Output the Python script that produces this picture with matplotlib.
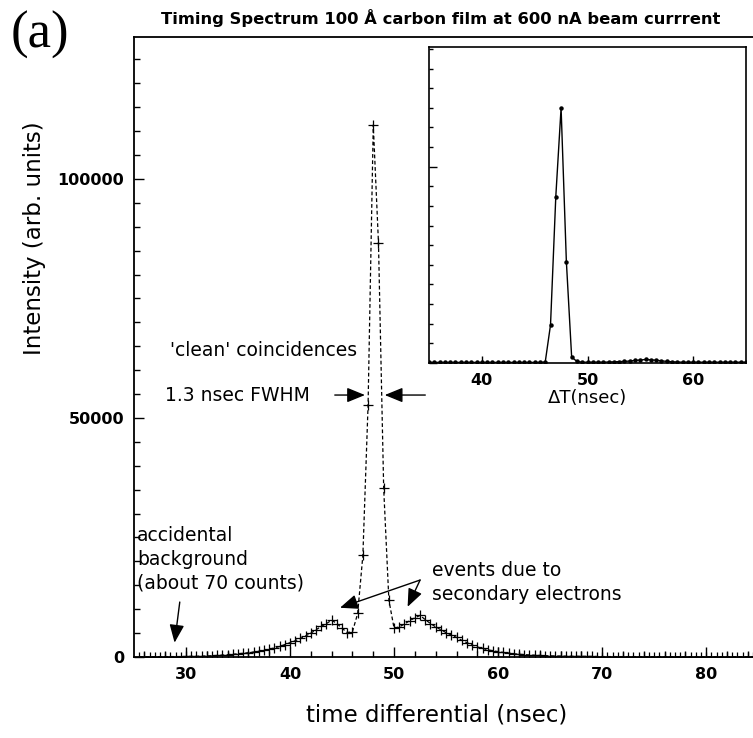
import numpy as np
import matplotlib
matplotlib.use("Agg")
import matplotlib.pyplot as plt
from matplotlib.ticker import MultipleLocator

# ---------------- data ----------------
main_x = np.arange(25.5, 84.51, 0.5)
main_counts = [
    70, 70, 70, 70, 80, 80, 90, 90, 100, 110,
    130, 150, 180, 220, 270, 330, 400, 480, 570, 670,
    780, 900, 1050, 1200, 1400, 1650, 1900, 2200, 2600, 3000,
    3400, 3900, 4400, 5000, 5700, 6400, 7000, 7700,
    7000, 6000, 5100, 5300,
    9100, 21300, 52700, 111300, 86600, 35300, 11900, 6000,
    6300, 6900, 7600, 8200, 8700, 7800,
    7000, 6300, 5700, 5100, 4600, 4100, 3500, 3000, 2500, 2100,
    1800, 1500, 1300, 1100, 950, 800, 680, 580, 500, 430,
    370, 320, 280, 240, 210, 190, 170, 150, 140, 130, 120, 110, 100, 95,
    90, 90, 90, 85, 85, 85, 80, 80, 80, 80, 80, 75, 75, 75, 75,
    75, 75, 75, 70, 70, 70, 70, 70, 70, 70, 70, 70, 70, 70,
]

inset_x = np.arange(35.0, 65.01, 0.5)
inset_counts = [
    300, 300, 300, 300, 300, 300, 300, 300, 300, 300, 300,
    300, 300, 300, 300, 300, 300, 300, 300, 300, 300, 300,
    500, 19400, 84800, 130000, 51700, 3000, 800,
    400, 400, 400, 400, 400, 500, 600, 700, 800,
    1000, 1300, 1500, 1800, 1600, 1400, 1100,
    800, 600, 500, 400, 400, 400, 400, 400, 400, 400, 400, 400, 400, 400, 400, 400,
]

title_text = "Timing Spectrum 100 Å carbon film at 600 nA beam currrent"
xlabel_text = "time differential (nsec)"
ylabel_text = "Intensity (arb. units)"
inset_xlabel = "ΔT(nsec)"

# ---------------- figure ----------------
W, H = 753, 738
fig = plt.figure(figsize=(W / 100, H / 100), dpi=100)
plt.rcParams['font.family'] = ['DejaVu Sans']


def frac_box(l, t, r, b):
    return [l / W, 1 - b / H, (r - l) / W, (b - t) / H]


ax = fig.add_axes(frac_box(134, 37, 753, 657))
ax.plot(main_x, main_counts, linestyle=(0, (3, 2)), color='black', lw=0.9,
        marker='+', markersize=7, markeredgewidth=0.9)
ax.set_xlim(25, 84.5)
ax.set_ylim(0, 129700)
ax.xaxis.set_major_locator(MultipleLocator(10))
ax.xaxis.set_minor_locator(MultipleLocator(2))
ax.yaxis.set_major_locator(MultipleLocator(50000))
ax.yaxis.set_minor_locator(MultipleLocator(5000))
ax.tick_params(which='both', direction='in', color='black', width=1)
ax.tick_params(which='major', length=7, labelsize=11.5, pad=7)
ax.tick_params(which='minor', length=4)
for lab in ax.get_xticklabels() + ax.get_yticklabels():
    lab.set_fontweight('bold')
for s in ax.spines.values():
    s.set_linewidth(1.3)
ax.spines['right'].set_visible(False)

ax.set_xlabel(xlabel_text, fontsize=16.5)
ax.xaxis.set_label_coords((437 - 134) / (753 - 134), -(715 - 657) / 620, transform=ax.transAxes)
ax.xaxis.label.set_va('center')
ax.set_ylabel(ylabel_text, fontsize=16.5)
ax.yaxis.set_label_coords(-(134 - 35) / 619, (657 - 238) / 620)
ax.yaxis.label.set_va('center')

fig.text(441 / W, 1 - 18 / H, title_text, fontsize=11.8, fontweight='bold',
         ha='center', va='center')
fig.text(11 / W, 1 - 35 / H, "(a)", fontsize=38, family='Liberation Serif',
         ha='left', va='center')

# annotations
arrow_kw = dict(arrowstyle='-|>,head_length=1.1,head_width=0.45', color='black', lw=1.0,
                shrinkA=0, shrinkB=0)
ann_fs = 13.5
ax.text(28.5, 64200, "'clean' coincidences", fontsize=ann_fs, ha='left', va='center')
ax.text(28.0, 54800, "1.3 nsec FWHM", fontsize=ann_fs, ha='left', va='center')
ax.annotate("", xy=(47.2, 54800), xytext=(44.3, 54800), arrowprops=arrow_kw)
ax.annotate("", xy=(49.1, 54800), xytext=(53.0, 54800), arrowprops=arrow_kw)

ax.text(25.3, 27300, "accidental\nbackground\n(about 70 counts)", fontsize=ann_fs,
        ha='left', va='top', linespacing=1.3)
ax.annotate("", xy=(28.9, 3000), xytext=(29.4, 11500), arrowprops=arrow_kw)

ax.text(53.65, 20000, "events due to\nsecondary electrons", fontsize=ann_fs,
        ha='left', va='top', linespacing=1.33)
ax.annotate("", xy=(44.8, 10300), xytext=(52.5, 16100), arrowprops=arrow_kw)
ax.annotate("", xy=(51.3, 10500), xytext=(52.5, 16100), arrowprops=arrow_kw)

# ---------------- inset ----------------
ins = fig.add_axes(frac_box(429, 47, 746, 363))
ins.plot(inset_x, inset_counts, color='black', lw=1.0, marker='o', markersize=2.2)
ins.set_xlim(35, 65)
ins.set_ylim(0, 161000)
ins.xaxis.set_major_locator(MultipleLocator(10))
ins.yaxis.set_major_locator(MultipleLocator(100000))
ins.yaxis.set_minor_locator(MultipleLocator(10000))
ins.set_yticklabels([])
ins.tick_params(which='both', direction='in', color='black', width=1)
ins.tick_params(axis='x', which='major', length=5, labelsize=11.5, pad=7)
ins.tick_params(axis='y', which='major', length=6)
ins.tick_params(axis='y', which='minor', length=3)
for lab in ins.get_xticklabels():
    lab.set_fontweight('bold')
for s in ins.spines.values():
    s.set_linewidth(1.2)
ins.set_xlabel(inset_xlabel, fontsize=13, labelpad=1)

fig.savefig("out.png", dpi=100)
